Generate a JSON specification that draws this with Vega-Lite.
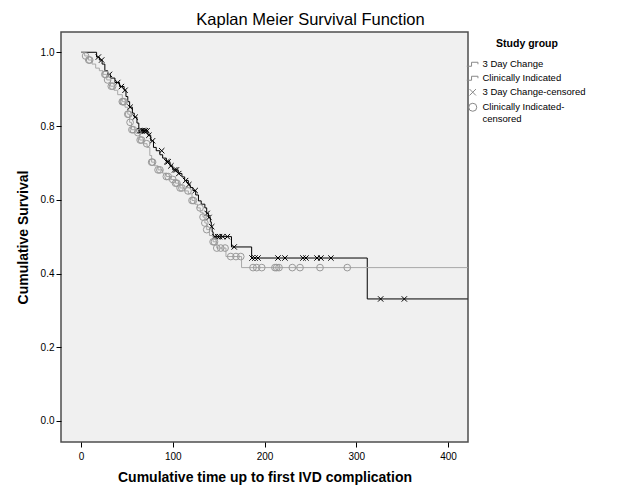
{
  "$schema": "https://vega.github.io/schema/vega-lite/v6.json",
  "width": 407,
  "height": 410,
  "autosize": {"type": "none"},
  "padding": {"left": 61, "top": 32, "right": 157, "bottom": 58},
  "background": "white",
  "title": {
    "text": "Kaplan Meier Survival Function",
    "font": "Liberation Sans",
    "fontSize": 16.5,
    "fontWeight": "normal",
    "color": "black",
    "anchor": "middle",
    "dx": 46,
    "offset": 4
  },
  "config": {
    "font": "Liberation Sans",
    "view": {"fill": "#F0F0F0", "stroke": "#4d4d4d", "strokeWidth": 1.5},
    "axis": {
      "grid": false,
      "domain": false,
      "tickColor": "black",
      "tickSize": 5,
      "labelFont": "Liberation Sans",
      "labelFontSize": 10,
      "labelColor": "black",
      "titleFont": "Liberation Sans",
      "titleFontSize": 14,
      "titleFontWeight": "bold",
      "titleColor": "black"
    }
  },
  "datasets": {
    "curve": [
      {"time": 0, "survival": 1.0, "series": "3 Day Change"},
      {"time": 17, "survival": 0.987, "series": "3 Day Change"},
      {"time": 20, "survival": 0.979, "series": "3 Day Change"},
      {"time": 23, "survival": 0.968, "series": "3 Day Change"},
      {"time": 26, "survival": 0.95, "series": "3 Day Change"},
      {"time": 29, "survival": 0.94, "series": "3 Day Change"},
      {"time": 32, "survival": 0.93, "series": "3 Day Change"},
      {"time": 37, "survival": 0.918, "series": "3 Day Change"},
      {"time": 42, "survival": 0.907, "series": "3 Day Change"},
      {"time": 47, "survival": 0.897, "series": "3 Day Change"},
      {"time": 49, "survival": 0.88, "series": "3 Day Change"},
      {"time": 51, "survival": 0.866, "series": "3 Day Change"},
      {"time": 53, "survival": 0.851, "series": "3 Day Change"},
      {"time": 56, "survival": 0.835, "series": "3 Day Change"},
      {"time": 58, "survival": 0.824, "series": "3 Day Change"},
      {"time": 61, "survival": 0.808, "series": "3 Day Change"},
      {"time": 63, "survival": 0.787, "series": "3 Day Change"},
      {"time": 73, "survival": 0.775, "series": "3 Day Change"},
      {"time": 76, "survival": 0.76, "series": "3 Day Change"},
      {"time": 79, "survival": 0.742, "series": "3 Day Change"},
      {"time": 82, "survival": 0.733, "series": "3 Day Change"},
      {"time": 86, "survival": 0.722, "series": "3 Day Change"},
      {"time": 89, "survival": 0.713, "series": "3 Day Change"},
      {"time": 93, "survival": 0.703, "series": "3 Day Change"},
      {"time": 97, "survival": 0.692, "series": "3 Day Change"},
      {"time": 100, "survival": 0.681, "series": "3 Day Change"},
      {"time": 106, "survival": 0.671, "series": "3 Day Change"},
      {"time": 110, "survival": 0.662, "series": "3 Day Change"},
      {"time": 113, "survival": 0.652, "series": "3 Day Change"},
      {"time": 117, "survival": 0.641, "series": "3 Day Change"},
      {"time": 119, "survival": 0.633, "series": "3 Day Change"},
      {"time": 122, "survival": 0.625, "series": "3 Day Change"},
      {"time": 125, "survival": 0.613, "series": "3 Day Change"},
      {"time": 128, "survival": 0.597, "series": "3 Day Change"},
      {"time": 131, "survival": 0.588, "series": "3 Day Change"},
      {"time": 135, "survival": 0.578, "series": "3 Day Change"},
      {"time": 137, "survival": 0.563, "series": "3 Day Change"},
      {"time": 139, "survival": 0.552, "series": "3 Day Change"},
      {"time": 141, "survival": 0.54, "series": "3 Day Change"},
      {"time": 142, "survival": 0.527, "series": "3 Day Change"},
      {"time": 143, "survival": 0.513, "series": "3 Day Change"},
      {"time": 144, "survival": 0.5, "series": "3 Day Change"},
      {"time": 164, "survival": 0.472, "series": "3 Day Change"},
      {"time": 186, "survival": 0.442, "series": "3 Day Change"},
      {"time": 312, "survival": 0.331, "series": "3 Day Change"},
      {"time": 421.5, "survival": 0.331, "series": "3 Day Change"},
      {"time": 0, "survival": 1.0, "series": "Clinically Indicated"},
      {"time": 4, "survival": 0.99, "series": "Clinically Indicated"},
      {"time": 8, "survival": 0.979, "series": "Clinically Indicated"},
      {"time": 12, "survival": 0.968, "series": "Clinically Indicated"},
      {"time": 16, "survival": 0.957, "series": "Clinically Indicated"},
      {"time": 20, "survival": 0.95, "series": "Clinically Indicated"},
      {"time": 24, "survival": 0.94, "series": "Clinically Indicated"},
      {"time": 28, "survival": 0.925, "series": "Clinically Indicated"},
      {"time": 32, "survival": 0.908, "series": "Clinically Indicated"},
      {"time": 36, "survival": 0.897, "series": "Clinically Indicated"},
      {"time": 40, "survival": 0.885, "series": "Clinically Indicated"},
      {"time": 45, "survival": 0.866, "series": "Clinically Indicated"},
      {"time": 48, "survival": 0.851, "series": "Clinically Indicated"},
      {"time": 51, "survival": 0.832, "series": "Clinically Indicated"},
      {"time": 53, "survival": 0.81, "series": "Clinically Indicated"},
      {"time": 55, "survival": 0.79, "series": "Clinically Indicated"},
      {"time": 61, "survival": 0.782, "series": "Clinically Indicated"},
      {"time": 64, "survival": 0.762, "series": "Clinically Indicated"},
      {"time": 68, "survival": 0.752, "series": "Clinically Indicated"},
      {"time": 72, "survival": 0.742, "series": "Clinically Indicated"},
      {"time": 75, "survival": 0.72, "series": "Clinically Indicated"},
      {"time": 77, "survival": 0.702, "series": "Clinically Indicated"},
      {"time": 80, "survival": 0.692, "series": "Clinically Indicated"},
      {"time": 84, "survival": 0.681, "series": "Clinically Indicated"},
      {"time": 89, "survival": 0.672, "series": "Clinically Indicated"},
      {"time": 93, "survival": 0.663, "series": "Clinically Indicated"},
      {"time": 98, "survival": 0.655, "series": "Clinically Indicated"},
      {"time": 103, "survival": 0.645, "series": "Clinically Indicated"},
      {"time": 108, "survival": 0.632, "series": "Clinically Indicated"},
      {"time": 113, "survival": 0.624, "series": "Clinically Indicated"},
      {"time": 117, "survival": 0.616, "series": "Clinically Indicated"},
      {"time": 121, "survival": 0.598, "series": "Clinically Indicated"},
      {"time": 124, "survival": 0.588, "series": "Clinically Indicated"},
      {"time": 127, "survival": 0.578, "series": "Clinically Indicated"},
      {"time": 130, "survival": 0.566, "series": "Clinically Indicated"},
      {"time": 133, "survival": 0.553, "series": "Clinically Indicated"},
      {"time": 135, "survival": 0.537, "series": "Clinically Indicated"},
      {"time": 137, "survival": 0.519, "series": "Clinically Indicated"},
      {"time": 140, "survival": 0.503, "series": "Clinically Indicated"},
      {"time": 144, "survival": 0.486, "series": "Clinically Indicated"},
      {"time": 148, "survival": 0.469, "series": "Clinically Indicated"},
      {"time": 158, "survival": 0.446, "series": "Clinically Indicated"},
      {"time": 175, "survival": 0.416, "series": "Clinically Indicated"},
      {"time": 421.5, "survival": 0.416, "series": "Clinically Indicated"}
    ],
    "censor": [
      {"time": 18.9, "survival": 0.987, "series": "3 Day Change-censored"},
      {"time": 22.5, "survival": 0.979, "series": "3 Day Change-censored"},
      {"time": 31, "survival": 0.94, "series": "3 Day Change-censored"},
      {"time": 40, "survival": 0.918, "series": "3 Day Change-censored"},
      {"time": 44, "survival": 0.907, "series": "3 Day Change-censored"},
      {"time": 48, "survival": 0.897, "series": "3 Day Change-censored"},
      {"time": 53.5, "survival": 0.851, "series": "3 Day Change-censored"},
      {"time": 59, "survival": 0.824, "series": "3 Day Change-censored"},
      {"time": 64, "survival": 0.787, "series": "3 Day Change-censored"},
      {"time": 65.5, "survival": 0.787, "series": "3 Day Change-censored"},
      {"time": 67, "survival": 0.787, "series": "3 Day Change-censored"},
      {"time": 68.5, "survival": 0.787, "series": "3 Day Change-censored"},
      {"time": 70, "survival": 0.787, "series": "3 Day Change-censored"},
      {"time": 72, "survival": 0.787, "series": "3 Day Change-censored"},
      {"time": 74, "survival": 0.775, "series": "3 Day Change-censored"},
      {"time": 78, "survival": 0.76, "series": "3 Day Change-censored"},
      {"time": 88, "survival": 0.733, "series": "3 Day Change-censored"},
      {"time": 93.5, "survival": 0.703, "series": "3 Day Change-censored"},
      {"time": 95, "survival": 0.703, "series": "3 Day Change-censored"},
      {"time": 98, "survival": 0.692, "series": "3 Day Change-censored"},
      {"time": 102, "survival": 0.681, "series": "3 Day Change-censored"},
      {"time": 104, "survival": 0.681, "series": "3 Day Change-censored"},
      {"time": 106.5, "survival": 0.671, "series": "3 Day Change-censored"},
      {"time": 114, "survival": 0.652, "series": "3 Day Change-censored"},
      {"time": 117.5, "survival": 0.641, "series": "3 Day Change-censored"},
      {"time": 124.5, "survival": 0.625, "series": "3 Day Change-censored"},
      {"time": 137.5, "survival": 0.563, "series": "3 Day Change-censored"},
      {"time": 139.5, "survival": 0.552, "series": "3 Day Change-censored"},
      {"time": 142.5, "survival": 0.527, "series": "3 Day Change-censored"},
      {"time": 146, "survival": 0.5, "series": "3 Day Change-censored"},
      {"time": 149, "survival": 0.5, "series": "3 Day Change-censored"},
      {"time": 151, "survival": 0.5, "series": "3 Day Change-censored"},
      {"time": 154.5, "survival": 0.5, "series": "3 Day Change-censored"},
      {"time": 159.5, "survival": 0.5, "series": "3 Day Change-censored"},
      {"time": 167, "survival": 0.472, "series": "3 Day Change-censored"},
      {"time": 186.4, "survival": 0.442, "series": "3 Day Change-censored"},
      {"time": 189.6, "survival": 0.442, "series": "3 Day Change-censored"},
      {"time": 192.9, "survival": 0.442, "series": "3 Day Change-censored"},
      {"time": 214.7, "survival": 0.442, "series": "3 Day Change-censored"},
      {"time": 222.3, "survival": 0.442, "series": "3 Day Change-censored"},
      {"time": 241.9, "survival": 0.442, "series": "3 Day Change-censored"},
      {"time": 245.2, "survival": 0.442, "series": "3 Day Change-censored"},
      {"time": 257.2, "survival": 0.442, "series": "3 Day Change-censored"},
      {"time": 261.5, "survival": 0.442, "series": "3 Day Change-censored"},
      {"time": 272.4, "survival": 0.442, "series": "3 Day Change-censored"},
      {"time": 326.6, "survival": 0.331, "series": "3 Day Change-censored"},
      {"time": 352.4, "survival": 0.331, "series": "3 Day Change-censored"},
      {"time": 5, "survival": 0.99, "series": "Clinically Indicated-censored"},
      {"time": 8.5, "survival": 0.979, "series": "Clinically Indicated-censored"},
      {"time": 9.5, "survival": 0.979, "series": "Clinically Indicated-censored"},
      {"time": 26, "survival": 0.94, "series": "Clinically Indicated-censored"},
      {"time": 27, "survival": 0.94, "series": "Clinically Indicated-censored"},
      {"time": 29, "survival": 0.925, "series": "Clinically Indicated-censored"},
      {"time": 33, "survival": 0.908, "series": "Clinically Indicated-censored"},
      {"time": 34.5, "survival": 0.908, "series": "Clinically Indicated-censored"},
      {"time": 45, "survival": 0.866, "series": "Clinically Indicated-censored"},
      {"time": 46, "survival": 0.866, "series": "Clinically Indicated-censored"},
      {"time": 47, "survival": 0.866, "series": "Clinically Indicated-censored"},
      {"time": 51, "survival": 0.832, "series": "Clinically Indicated-censored"},
      {"time": 52, "survival": 0.832, "series": "Clinically Indicated-censored"},
      {"time": 53.5, "survival": 0.81, "series": "Clinically Indicated-censored"},
      {"time": 55.5, "survival": 0.79, "series": "Clinically Indicated-censored"},
      {"time": 57, "survival": 0.79, "series": "Clinically Indicated-censored"},
      {"time": 62, "survival": 0.782, "series": "Clinically Indicated-censored"},
      {"time": 64.5, "survival": 0.762, "series": "Clinically Indicated-censored"},
      {"time": 66, "survival": 0.762, "series": "Clinically Indicated-censored"},
      {"time": 71.6, "survival": 0.752, "series": "Clinically Indicated-censored"},
      {"time": 77, "survival": 0.702, "series": "Clinically Indicated-censored"},
      {"time": 78, "survival": 0.702, "series": "Clinically Indicated-censored"},
      {"time": 84, "survival": 0.681, "series": "Clinically Indicated-censored"},
      {"time": 86, "survival": 0.681, "series": "Clinically Indicated-censored"},
      {"time": 93, "survival": 0.663, "series": "Clinically Indicated-censored"},
      {"time": 95, "survival": 0.663, "series": "Clinically Indicated-censored"},
      {"time": 100, "survival": 0.655, "series": "Clinically Indicated-censored"},
      {"time": 103, "survival": 0.645, "series": "Clinically Indicated-censored"},
      {"time": 104.5, "survival": 0.645, "series": "Clinically Indicated-censored"},
      {"time": 108, "survival": 0.632, "series": "Clinically Indicated-censored"},
      {"time": 110, "survival": 0.632, "series": "Clinically Indicated-censored"},
      {"time": 116.6, "survival": 0.624, "series": "Clinically Indicated-censored"},
      {"time": 121, "survival": 0.598, "series": "Clinically Indicated-censored"},
      {"time": 122.5, "survival": 0.598, "series": "Clinically Indicated-censored"},
      {"time": 129.7, "survival": 0.578, "series": "Clinically Indicated-censored"},
      {"time": 133, "survival": 0.553, "series": "Clinically Indicated-censored"},
      {"time": 135, "survival": 0.537, "series": "Clinically Indicated-censored"},
      {"time": 137, "survival": 0.519, "series": "Clinically Indicated-censored"},
      {"time": 144, "survival": 0.486, "series": "Clinically Indicated-censored"},
      {"time": 145.5, "survival": 0.486, "series": "Clinically Indicated-censored"},
      {"time": 148, "survival": 0.469, "series": "Clinically Indicated-censored"},
      {"time": 152.3, "survival": 0.469, "series": "Clinically Indicated-censored"},
      {"time": 157, "survival": 0.469, "series": "Clinically Indicated-censored"},
      {"time": 163.2, "survival": 0.446, "series": "Clinically Indicated-censored"},
      {"time": 168.9, "survival": 0.446, "series": "Clinically Indicated-censored"},
      {"time": 174.1, "survival": 0.446, "series": "Clinically Indicated-censored"},
      {"time": 187.5, "survival": 0.416, "series": "Clinically Indicated-censored"},
      {"time": 191.5, "survival": 0.416, "series": "Clinically Indicated-censored"},
      {"time": 197, "survival": 0.416, "series": "Clinically Indicated-censored"},
      {"time": 211.4, "survival": 0.416, "series": "Clinically Indicated-censored"},
      {"time": 213.3, "survival": 0.416, "series": "Clinically Indicated-censored"},
      {"time": 215.8, "survival": 0.416, "series": "Clinically Indicated-censored"},
      {"time": 230.3, "survival": 0.416, "series": "Clinically Indicated-censored"},
      {"time": 238.7, "survival": 0.416, "series": "Clinically Indicated-censored"},
      {"time": 260.5, "survival": 0.416, "series": "Clinically Indicated-censored"},
      {"time": 290.2, "survival": 0.416, "series": "Clinically Indicated-censored"}
    ]
  },
  "encoding": {
    "x": {
      "field": "time",
      "type": "quantitative",
      "scale": {"domain": [-21.8, 421.8], "nice": false, "zero": false},
      "axis": {
        "title": "Cumulative time up to first IVD complication",
        "values": [0, 100, 200, 300, 400],
        "labelPadding": 4,
        "titlePadding": 9
      }
    },
    "y": {
      "field": "survival",
      "type": "quantitative",
      "scale": {"domain": [-0.057, 1.055], "nice": false, "zero": false},
      "axis": {
        "title": "Cumulative Survival",
        "values": [0, 0.2, 0.4, 0.6, 0.8, 1.0],
        "format": ".1f",
        "labelPadding": 2,
        "titlePadding": 10
      }
    }
  },
  "layer": [
    {
      "data": {"name": "curve"},
      "mark": {"type": "line", "interpolate": "step-after", "strokeWidth": 1, "clip": true},
      "encoding": {
        "color": {
          "field": "series",
          "type": "nominal",
          "scale": {"domain": ["3 Day Change", "Clinically Indicated"], "range": ["#000000", "#a8a8a8"]},
          "legend": null
        }
      }
    },
    {
      "data": {"name": "censor"},
      "mark": {"type": "point", "filled": false, "size": 45, "strokeWidth": 1, "opacity": 1},
      "encoding": {
        "color": {
          "field": "series",
          "type": "nominal",
          "scale": {
            "domain": ["3 Day Change-censored", "Clinically Indicated-censored"],
            "range": ["#000000", "#999999"]
          },
          "legend": null
        },
        "shape": {
          "field": "series",
          "type": "nominal",
          "scale": {
            "domain": ["3 Day Change", "Clinically Indicated", "3 Day Change-censored", "Clinically Indicated-censored"],
            "range": [
              "M-1.5,0.5L-0.3,0.5L-0.3,-0.5L1.3,-0.5L1.3,0",
              "M-1.5,0.5L-0.3,0.5L-0.3,-0.5L1.3,-0.5L1.3,0",
              "M-0.8,-0.8L0.8,0.8M-0.8,0.8L0.8,-0.8",
              "circle"
            ]
          },
          "legend": {
            "title": "Study group",
            "orient": "right",
            "offset": -7,
            "padding": 7,
            "titleFont": "Liberation Sans",
            "titleFontSize": 10.5,
            "titleFontWeight": "bold",
            "titleColor": "black",
            "titleAnchor": "middle",
            "titlePadding": 10,
            "labelFont": "Liberation Sans",
            "labelFontSize": 9.5,
            "labelColor": "black",
            "labelOffset": 5,
            "rowPadding": 3,
            "symbolSize": 64,
            "symbolStrokeWidth": 1,
            "labelExpr": "datum.label == 'Clinically Indicated-censored' ? ['Clinically Indicated-', 'censored'] : datum.label",
            "encode": {
              "symbols": {
                "update": {
                  "stroke": {"signal": "indexof(datum.value, 'Clinically') == 0 ? '#999999' : '#000000'"},
                  "fill": {"value": "transparent"}
                }
              }
            }
          }
        }
      }
    }
  ],
  "resolve": {"scale": {"color": "independent"}}
}
